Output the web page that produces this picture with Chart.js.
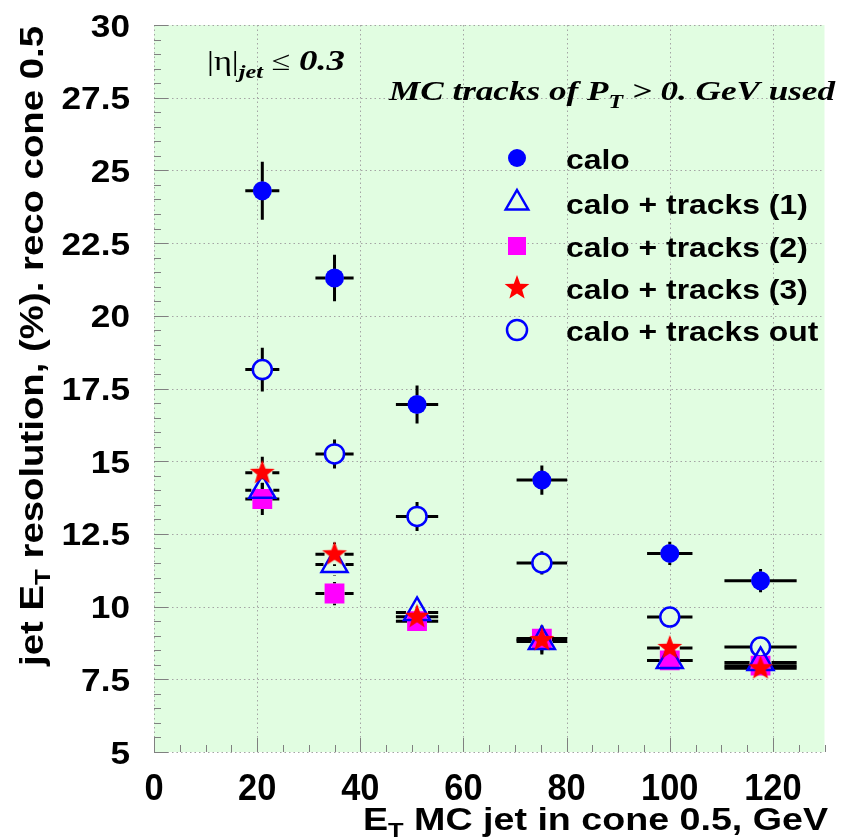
<!DOCTYPE html>
<html>
<head>
<meta charset="utf-8">
<script src="https://cdn.jsdelivr.net/npm/chart.js@4.4.0/dist/chart.umd.min.js"></script>
<style>
  html, body { margin: 0; padding: 0; background: #fff; }
  #wrap { width: 842px; height: 839px; position: relative; }
</style>
</head>
<body>
<div id="wrap"><canvas id="c"></canvas></div>
<script>
// E_T MC jet bins (GeV) and their half widths
const etMC  = [21, 35, 51, 75.2, 100, 117.6];
const etErr = [3.3, 3.7, 4.1, 4.9, 4.4, 7.0];

// resolution (%) per method
const calo       = [24.3, 21.3, 16.95, 14.35, 11.83, 10.89];
const caloErr    = [1.0, 0.8, 0.65, 0.5, 0.4, 0.4];
const tracks1    = [14.0, 11.45, 9.8, 8.8, 8.15, 8.08];
const tracks2    = [13.7, 10.45, 9.5, 8.9, 8.15, 7.97];
const tracks3    = [14.6, 11.8, 9.65, 8.85, 8.58, 7.88];
const tracksErr  = [0.55, 0.4, 0.35, 0.45, 0.3, 0.2];
const tracksOut  = [18.15, 15.25, 13.1, 11.5, 9.64, 8.61];
const outErr     = [0.75, 0.5, 0.5, 0.4, 0.3, 0.25];

const legendLabels = ['calo', 'calo + tracks (1)', 'calo + tracks (2)', 'calo + tracks (3)', 'calo + tracks out'];

const xTicks = [0, 20, 40, 60, 80, 100, 120];
const xTickLabels = ['0', '20', '40', '60', '80', '100', '120'];
const yTicks = [5, 7.5, 10, 12.5, 15, 17.5, 20, 22.5, 25, 27.5, 30];
const yTickLabels = ['5', '7.5', '10', '12.5', '15', '17.5', '20', '22.5', '25', '27.5', '30'];

const BLUE = '#0000ff', PINK = '#ff00ff', RED = '#ff0000', BG = '#e1fde1';
const SANS = '"Liberation Sans", Arial, sans-serif';
const SERIF = '"Liberation Serif", "Times New Roman", serif';

function makeStar(R, r, color) {
  const c = document.createElement('canvas');
  const s = Math.ceil(2 * R + 2);
  c.width = s; c.height = s;
  const g = c.getContext('2d');
  g.fillStyle = color;
  g.beginPath();
  for (let i = 0; i < 10; i++) {
    const a = -Math.PI / 2 + i * Math.PI / 5;
    const rad = i % 2 === 0 ? R : r;
    g.lineTo(s / 2 + rad * Math.cos(a), s / 2 + rad * Math.sin(a));
  }
  g.closePath();
  g.fill();
  return c;
}
const starImg = makeStar(13, 5.4, RED);

function pts(ys) { return etMC.map((x, i) => ({ x: x, y: ys[i] })); }

// text in pieces (for subscripts), optionally stretched to a width
function partsWidth(ctx, parts) {
  let w = 0;
  for (const p of parts) { ctx.font = p.font; w += ctx.measureText(p.text).width; }
  return w;
}
function drawParts(ctx, parts, x, y, o) {
  const w = partsWidth(ctx, parts);
  const sx = o.width ? o.width / w : (o.sx || 1);
  ctx.save();
  ctx.translate(x, y);
  if (o.rotate) ctx.rotate(o.rotate);
  ctx.scale(sx, o.sy || 1);
  let cx = o.align === 'right' ? -w : o.align === 'center' ? -w / 2 : 0;
  ctx.fillStyle = '#000';
  ctx.textAlign = 'left';
  ctx.textBaseline = 'alphabetic';
  for (const p of parts) {
    ctx.font = p.font;
    ctx.fillText(p.text, cx, p.dy || 0);
    cx += ctx.measureText(p.text).width;
  }
  ctx.restore();
}

function drawMarker(ctx, kind, x, y) {
  ctx.save();
  ctx.lineWidth = 2.5;
  if (kind === 'calo') {
    ctx.fillStyle = BLUE; ctx.beginPath(); ctx.arc(x, y, 9, 0, Math.PI * 2); ctx.fill();
  } else if (kind === 't1') {
    const r = 13;
    ctx.strokeStyle = BLUE; ctx.beginPath();
    ctx.moveTo(x, y - r); ctx.lineTo(x + r * 0.866, y + r / 2); ctx.lineTo(x - r * 0.866, y + r / 2);
    ctx.closePath(); ctx.stroke();
  } else if (kind === 't2') {
    ctx.fillStyle = PINK; ctx.fillRect(x - 9, y - 9, 18, 18);
  } else if (kind === 't3') {
    ctx.drawImage(starImg, x - starImg.width / 2, y - starImg.height / 2);
  } else {
    ctx.strokeStyle = BLUE; ctx.fillStyle = BG; ctx.beginPath(); ctx.arc(x, y, 10, 0, Math.PI * 2); ctx.fill(); ctx.stroke();
  }
  ctx.restore();
}

const rootPlot = {
  id: 'rootPlot',
  beforeDraw(chart) {
    const { ctx, chartArea: a } = chart;
    ctx.save();
    ctx.fillStyle = BG;
    ctx.fillRect(a.left, a.top, a.right - a.left, a.bottom - a.top);
    ctx.restore();
  },
  beforeDatasetsDraw(chart) {
    const { ctx, chartArea: a, scales: { x: xs, y: ys } } = chart;
    ctx.save();
    // dotted grid
    ctx.strokeStyle = '#a4a4a4';
    ctx.lineWidth = 1;
    ctx.setLineDash([1.5, 3]);
    for (const v of xTicks) {
      const px = Math.round(xs.getPixelForValue(v)) + 0.5;
      ctx.beginPath(); ctx.moveTo(px, a.top); ctx.lineTo(px, a.bottom); ctx.stroke();
    }
    for (const v of yTicks) {
      const py = Math.round(ys.getPixelForValue(v)) + 0.5;
      ctx.beginPath(); ctx.moveTo(a.left, py); ctx.lineTo(a.right, py); ctx.stroke();
    }
    ctx.setLineDash([]);
    // axis ticks (major + minor)
    ctx.strokeStyle = '#808080';
    for (let v = 0; v <= 130; v += 5) {
      const px = Math.round(xs.getPixelForValue(v)) + 0.5;
      const len = v % 20 === 0 ? 14 : 7;
      ctx.beginPath(); ctx.moveTo(px, a.bottom); ctx.lineTo(px, a.bottom - len); ctx.stroke();
    }
    for (let k = 0; k <= 50; k++) {
      const v = 5 + k * 0.5;
      const py = Math.round(ys.getPixelForValue(v)) + 0.5;
      const len = k % 5 === 0 ? 14 : 7;
      ctx.beginPath(); ctx.moveTo(a.left, py); ctx.lineTo(a.left + len, py); ctx.stroke();
    }
    // error bars, with a gap at the marker like ROOT does
    ctx.strokeStyle = '#000';
    ctx.lineWidth = 3;
    chart.data.datasets.forEach(ds => {
      const gap = ds.errGap;
      ds.data.forEach((p, i) => {
        const cx = xs.getPixelForValue(p.x), cy = ys.getPixelForValue(p.y);
        const x0 = xs.getPixelForValue(p.x - ds.xErr[i]), x1 = xs.getPixelForValue(p.x + ds.xErr[i]);
        const y0 = ys.getPixelForValue(p.y + ds.yErr[i]), y1 = ys.getPixelForValue(p.y - ds.yErr[i]);
        ctx.beginPath();
        if (cx - x0 > gap) { ctx.moveTo(x0, cy); ctx.lineTo(cx - gap, cy); ctx.moveTo(cx + gap, cy); ctx.lineTo(x1, cy); }
        if (cy - y0 > gap) { ctx.moveTo(cx, y0); ctx.lineTo(cx, cy - gap); ctx.moveTo(cx, cy + gap); ctx.lineTo(cx, y1); }
        ctx.stroke();
      });
    });
    ctx.restore();
  },
  afterDraw(chart) {
    const { ctx, chartArea: a, scales: { x: xs, y: ys } } = chart;
    // tick labels
    xTicks.forEach((v, i) => {
      drawParts(ctx, [{ text: xTickLabels[i], font: 'bold 37px ' + SANS }], xs.getPixelForValue(v), 800, { align: 'center', sx: 0.93 });
    });
    yTicks.forEach((v, i) => {
      drawParts(ctx, [{ text: yTickLabels[i], font: 'bold 32px ' + SANS }], 130, ys.getPixelForValue(v) + 11.5, { align: 'right', sx: 1.1 });
    });
    // axis titles
    drawParts(ctx, [
      { text: 'E', font: 'bold 31px ' + SANS },
      { text: 'T', font: 'bold 21px ' + SANS, dy: 7 },
      { text: ' MC jet in cone 0.5, GeV', font: 'bold 31px ' + SANS }
    ], 828, 830, { align: 'right', width: 465 });
    drawParts(ctx, [
      { text: 'jet E', font: 'bold 31px ' + SANS },
      { text: 'T', font: 'bold 21px ' + SANS, dy: 7 },
      { text: ' resolution, (%). reco cone 0.5', font: 'bold 31px ' + SANS }
    ], 43, 26, { align: 'right', rotate: -Math.PI / 2, width: 640, sy: 1.05 });
    // annotations
    drawParts(ctx, [
      { text: '|\u03b7|', font: '27px ' + SERIF },
      { text: 'jet', font: 'bold italic 19px ' + SERIF, dy: 8 },
      { text: ' \u2264 ', font: '27px ' + SERIF },
      { text: '0.3', font: 'bold italic 29px ' + SERIF }
    ], 207, 70, { align: 'left', width: 138 });
    drawParts(ctx, [
      { text: 'MC tracks of P', font: 'bold italic 28px ' + SERIF },
      { text: 'T', font: 'bold italic 19px ' + SERIF, dy: 8 },
      { text: ' > 0. GeV used', font: 'bold italic 28px ' + SERIF }
    ], 835, 100, { align: 'right', width: 446 });
    // legend
    const kinds = ['calo', 't1', 't2', 't3', 'out'];
    const rows = [158, 203, 246, 288, 330];
    kinds.forEach((k, i) => {
      drawMarker(ctx, k, 517, rows[i]);
      drawParts(ctx, [{ text: legendLabels[i], font: 'bold 27px ' + SANS }], 566, rows[i] + 11, { align: 'left', sx: 1.18 });
    });
  }
};

new Chart(document.getElementById('c'), {
  type: 'scatter',
  data: {
    datasets: [
      { label: legendLabels[3], data: pts(tracks3), xErr: etErr, yErr: tracksErr, errGap: 10, order: 0,
        pointStyle: starImg, pointRadius: 12 },
      { label: legendLabels[1], data: pts(tracks1), xErr: etErr, yErr: tracksErr, errGap: 11, order: 1,
        pointStyle: 'triangle', pointRadius: 15, backgroundColor: 'rgba(0,0,0,0)', borderColor: BLUE, borderWidth: 2.5 },
      { label: legendLabels[2], data: pts(tracks2), xErr: etErr, yErr: tracksErr, errGap: 10, order: 2,
        pointStyle: 'rect', pointRadius: 14, backgroundColor: PINK, borderColor: PINK, borderWidth: 0 },
      { label: legendLabels[4], data: pts(tracksOut), xErr: etErr, yErr: outErr, errGap: 10, order: 3,
        pointStyle: 'circle', pointRadius: 9.5, backgroundColor: BG, borderColor: BLUE, borderWidth: 2.5 },
      { label: legendLabels[0], data: pts(calo), xErr: etErr, yErr: caloErr, errGap: 9, order: 4,
        pointStyle: 'circle', pointRadius: 9.5, backgroundColor: BLUE, borderColor: BLUE, borderWidth: 0 }
    ]
  },
  options: {
    responsive: true,
    maintainAspectRatio: false,
    animation: false,
    layout: { padding: { left: 154, right: 12, top: 25, bottom: 87 } },
    plugins: { legend: { display: false }, tooltip: { enabled: false } },
    elements: { point: { hoverRadius: 0 } },
    scales: {
      x: {
        type: 'linear', min: 0, max: 130,
        grid: { display: false }, border: { display: false }, ticks: { display: false },
        afterBuildTicks: s => { s.ticks = xTicks.map(v => ({ value: v })); },
        afterFit: s => { s.height = 0; }
      },
      y: {
        type: 'linear', min: 5, max: 30,
        grid: { display: false }, border: { display: false }, ticks: { display: false },
        afterBuildTicks: s => { s.ticks = yTicks.map(v => ({ value: v })); },
        afterFit: s => { s.width = 0; }
      }
    }
  },
  plugins: [rootPlot]
});
</script>
</body>
</html>
